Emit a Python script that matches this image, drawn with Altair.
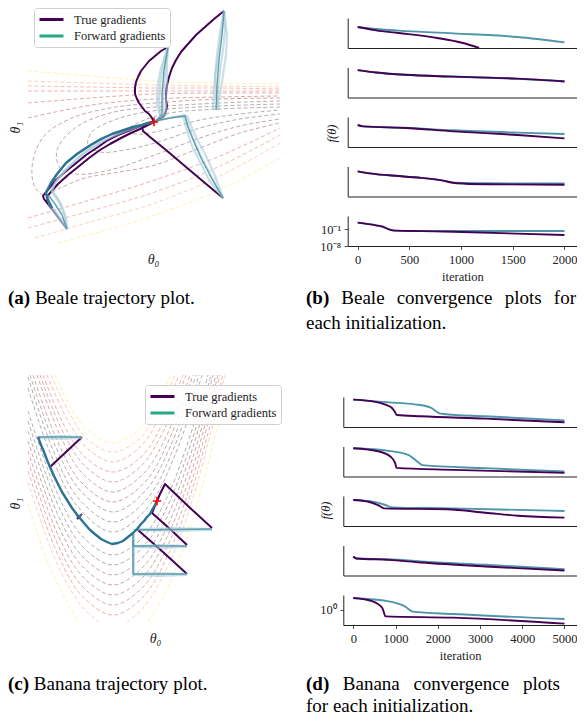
import altair as alt
import pandas as pd

W, H = 569, 709
MARGIN = 8
SERIF = "Liberation Serif"

# ======================= DATA =======================
# (a) Beale trajectory plot -- digitized readings (x to the right, y downward)
BEALE_CONTOUR_LINES = [
    [(28, 71), (90, 76), (155, 81), (220, 83), (280, 84)],
    [(28, 81), (90, 83), (155, 85), (220, 86), (280, 87)],
    [(28, 86), (90, 87), (155, 88), (220, 88), (280, 89)],
    [(28, 91), (90, 91), (155, 91), (220, 91), (280, 91)],
    [(28, 103), (90, 98), (155, 94), (220, 93), (280, 93)],
    [(28, 118), (92, 105), (155, 99), (220, 97), (280, 96)],
    [(280, 98), (220, 99), (155, 103), (110, 108), (72, 118), (45, 135), (33, 160), (34, 185),
     (44, 195), (60, 188), (85, 178), (120, 172), (155, 165), (200, 148), (240, 133), (280, 123)],
    [(280, 101), (220, 103), (155, 107), (110, 113), (75, 128), (57, 150), (60, 168), (75, 174),
     (110, 170), (155, 155), (200, 138), (240, 126), (280, 119)],
    [(280, 104), (220, 106), (160, 110), (120, 118), (92, 132), (88, 145), (100, 152), (125, 150),
     (155, 143), (200, 128), (240, 119), (280, 114)],
    [(280, 107), (220, 109), (170, 113), (140, 122), (128, 130), (135, 134), (155, 132), (200, 120),
     (240, 114), (280, 110)],
    [(28, 218), (90, 200), (155, 180), (220, 156), (280, 128)],
    [(28, 228), (90, 211), (155, 192), (220, 166), (280, 135)],
    [(35, 238), (90, 222), (155, 203), (220, 176), (280, 143)],
    [(58, 243), (110, 229), (155, 215), (220, 190), (280, 158)],
]
BEALE_CONTOUR_RANK = [9, 8, 7, 6, 5, 4, 3, 2, 1, 0, 6, 7, 8, 9]

BEALE_TRUE_PATHS = [
    [(224, 11), (214, 19), (205, 27), (196, 35), (188, 44), (181, 52), (176, 60), (172, 68), (169, 77),
     (167, 85), (166, 93), (166, 100), (167, 106), (166, 111), (164, 116), (160, 119), (154, 122)],
    [(168, 47), (161, 51), (155, 56), (149, 61), (145, 66), (141, 71), (138, 77), (136, 82), (135, 88),
     (135, 94), (137, 99), (139, 103), (142, 107), (145, 111), (149, 114), (152, 118), (154, 122)],
    [(223, 198), (205, 183), (186, 167), (166, 150), (150, 137), (143, 131), (142, 127), (146, 124), (154, 122)],
    [(67, 229), (55, 213), (44, 199), (43, 196), (46, 192), (56, 180), (65, 172), (75, 164), (86, 155),
     (98, 147), (108, 140), (118, 135), (128, 131), (138, 127), (146, 124), (154, 122)],
    [(52, 208), (47, 201), (47, 197), (50, 193), (58, 184), (68, 175), (78, 167), (89, 158), (100, 150),
     (110, 144), (121, 138), (131, 133), (140, 129), (148, 125), (154, 122)],
]
BEALE_FWD_STRANDS = [
    [(224, 11), (222, 30), (219, 50), (216, 70), (214, 90), (213, 110)],
    [(224, 11), (225, 30), (223, 50), (220, 70), (218, 90), (217, 110)],
    [(224, 11), (220, 32), (217, 55), (215, 75), (216, 95), (219, 110)],
    [(224, 11), (227, 35), (226, 55), (223, 75), (220, 95), (216, 108)],
    [(168, 47), (163, 65), (160, 85), (159, 100), (160, 116), (154, 122)],
    [(168, 47), (166, 65), (164, 85), (163, 100), (164, 116), (156, 121)],
    [(168, 47), (161, 68), (157, 88), (157, 105), (161, 118)],
    [(168, 47), (167, 62), (167, 80), (166, 100), (166, 116)],
    [(223, 198), (212, 178), (203, 160), (195, 143), (189, 128), (185, 115), (170, 118), (156, 121)],
    [(223, 198), (215, 176), (207, 158), (198, 141), (191, 126), (187, 116), (172, 117)],
    [(223, 198), (209, 180), (200, 162), (192, 146), (187, 131), (183, 116)],
    [(67, 229), (60, 218), (52, 207), (46, 197), (46, 191), (51, 182), (57, 174), (66, 163), (77, 154),
     (89, 146), (101, 139), (112, 134), (124, 130), (133, 127), (142, 125), (154, 122)],
    [(67, 229), (64, 214), (59, 202), (52, 192), (55, 183), (60, 177), (66, 170), (75, 161), (84, 153), (95, 146), (106, 139)],
    [(67, 229), (62, 222), (55, 214), (49, 204), (48, 195)],
    [(67, 229), (66, 218), (62, 206), (57, 197), (51, 190), (55, 183), (60, 176), (70, 165), (80, 156),
     (91, 148), (103, 141), (114, 136), (126, 131), (143, 125)],
]
BEALE_FWD_CORES = [
    [(224, 11), (222, 35), (219, 60), (217, 85), (216, 110)],
    [(168, 47), (164, 70), (162, 95), (162, 115), (156, 121)],
    [(223, 198), (211, 177), (201, 158), (194, 142), (188, 127), (185, 116), (170, 118), (155, 121)],
    [(67, 229), (62, 215), (55, 204), (49, 196)],
]
BEALE_FWD_MAIN = [
    [(52, 208), (48, 200), (46, 193), (51, 183), (57, 174), (66, 163), (77, 154), (89, 146), (101, 139),
     (112, 134), (124, 130), (133, 127), (142, 125), (148, 123), (154, 122)],
]
BEALE_OPTIMUM = [(154, 122)]

# (c) Banana trajectory plot -- digitized readings
BANANA_CONTOUR_LINES = [
    [(55, 375), (72, 410), (90, 432), (113, 443), (136, 432), (154, 410), (171, 375)],
    [(51, 375), (70, 414), (88, 440), (113, 452), (138, 440), (156, 414), (175, 375)],
    [(47, 375), (67, 419), (87, 448), (113, 462), (139, 448), (159, 419), (179, 375)],
    [(43, 375), (64, 425), (85, 457), (113, 472), (141, 457), (162, 425), (183, 375)],
    [(40, 375), (62, 430), (84, 465), (113, 482), (142, 465), (164, 430), (186, 375)],
    [(37, 375), (60, 435), (82, 473), (113, 492), (144, 473), (167, 435), (190, 375)],
    [(33, 375), (57, 440), (81, 482), (113, 502), (145, 482), (169, 440), (193, 375)],
    [(30, 375), (55, 445), (80, 490), (113, 512), (146, 490), (171, 445), (196, 375)],
    [(28, 377), (53, 450), (79, 499), (113, 522), (147, 499), (173, 450), (199, 375)],
    [(28, 388), (51, 455), (78, 507), (113, 532), (148, 507), (175, 455), (202, 375)],
    [(28, 411), (58, 495), (83, 537), (113, 555), (143, 537), (168, 495), (193, 427), (208, 375)],
    [(28, 421), (58, 505), (83, 547), (113, 565), (143, 547), (168, 505), (193, 437), (211, 375)],
    [(28, 431), (58, 515), (83, 557), (113, 575), (143, 557), (168, 515), (193, 447), (213, 375)],
    [(28, 441), (58, 525), (83, 567), (113, 585), (143, 567), (168, 525), (193, 457), (216, 375)],
    [(28, 451), (58, 535), (83, 577), (113, 595), (143, 577), (168, 535), (193, 467), (218, 375)],
    [(28, 461), (58, 545), (83, 587), (113, 605), (143, 587), (168, 545), (193, 477), (220, 375)],
    [(28, 471), (58, 555), (83, 597), (113, 615), (143, 597), (168, 555), (193, 487), (223, 375)],
    [(28, 482), (58, 566), (83, 608), (99, 622)],
    [(127, 622), (143, 608), (168, 566), (193, 498), (225, 375)],
    [(28, 503), (48, 563), (78, 622)],
    [(148, 622), (168, 587), (193, 519), (225, 396)],
]
BANANA_CONTOUR_RANK = [9, 8, 7, 6, 5, 4, 3, 2, 1, 0, 0, 1, 2, 3, 4, 5, 6, 8, 8, 9, 9]

BANANA_TRUE_PATHS = [
    [(82, 437), (66, 452), (50, 467)],
    [(82, 514), (77, 519)],
    [(212, 528), (188, 506), (165, 484), (160, 494), (157, 501)],
    [(187, 545), (170, 529), (152, 513), (157, 501)],
    [(187, 574), (163, 552), (138, 530)],
]
BANANA_FWD_STRANDS = [
    [(82, 437), (60, 436), (38, 437)],
    [(82, 438), (60, 439), (39, 438)],
    [(212, 529), (175, 528), (140, 529), (134, 531)],
    [(212, 530), (175, 531), (140, 530)],
    [(187, 546), (160, 545), (133, 546)],
    [(187, 547), (160, 548), (134, 547)],
    [(187, 574), (160, 573), (133, 574), (133, 552), (133, 534)],
    [(187, 575), (160, 576), (134, 575), (134, 552), (134, 534)],
]
BANANA_FWD_CORES = [
    [(82, 437), (38, 437)],
    [(212, 529), (134, 530)],
    [(187, 546), (133, 546), (133, 540)],
    [(187, 574), (133, 574), (133, 533)],
    [(82, 515), (76, 516)],
]
BANANA_FWD_MAIN = [
    [(38, 437), (41, 445), (44, 452), (47, 460), (50, 467), (54, 476), (58, 484), (62, 492), (67, 500),
     (72, 508), (78, 516), (84, 523), (90, 530), (96, 535), (101, 539), (107, 542), (112, 544), (118, 543),
     (123, 541), (128, 537), (133, 533), (137, 529), (141, 524), (144, 521), (147, 517), (150, 514),
     (152, 510), (155, 505), (157, 501)],
]
BANANA_OPTIMUM = [(157, 501)]

# (b) Beale convergence: iteration and log10 f(theta), one list per initialization
BEALE_FWD_ITER = [
    [0, 178, 396, 925, 1548, 2000],
    [0, 178, 458, 925, 1548, 2000],
    [0, 53, 458, 925, 1548, 2000],
    [0, 115, 302, 614, 801, 956, 1237, 2000],
    [0, 178, 240, 302, 364, 614, 925, 2000],
]
BEALE_FWD_LOGF = [
    [-0.5, -0.83, -1.11, -1.56, -2.17, -3.06],
    [0.56, 0.17, -0.22, -0.5, -0.89, -1.28],
    [-0.33, -0.56, -0.78, -1.22, -1.61, -1.83],
    [0.19, -0.14, -0.47, -0.9, -1.28, -1.72, -1.8, -1.83],
    [1.8, 0.68, 0.12, -1.0, -1.56, -1.7, -1.7, -1.7],
]
BEALE_TRUE_ITER = [
    [0, 178, 396, 769, 1018, 1174],
    [0, 178, 458, 925, 1548, 2000],
    [0, 53, 458, 925, 1548, 2000],
    [0, 115, 302, 614, 801, 956, 1237, 2000],
    [0, 178, 240, 302, 364, 614, 925, 2000],
]
BEALE_TRUE_LOGF = [
    [-0.5, -1.06, -1.5, -2.33, -3.17, -4.0],
    [0.56, 0.17, -0.22, -0.52, -0.86, -1.33],
    [-0.33, -0.56, -0.83, -1.39, -2.0, -2.56],
    [0.19, -0.14, -0.47, -0.9, -1.28, -1.78, -1.95, -2.04],
    [1.8, 0.68, 0.12, -1.0, -1.56, -1.75, -2.0, -3.38],
]

# (d) Banana convergence
BANANA_FWD_ITER = [
    [0, 840, 1450, 1832, 2023, 2137, 3130, 5000],
    [0, 840, 1298, 1565, 1641, 3130, 5000],
    [0, 458, 763, 916, 2366, 5000],
    [0, 76, 840, 1603, 3130, 5000],
    [0, 840, 1221, 1412, 2366, 5000],
]
BANANA_FWD_LOGF = [
    [0.56, 0.11, -0.22, -0.78, -1.67, -1.83, -2.22, -2.89],
    [0.72, 0.28, -0.39, -1.78, -2.11, -2.61, -3.17],
    [0.33, 0.06, -0.5, -0.89, -1.06, -1.5],
    [-0.83, -1.17, -1.28, -1.67, -2.22, -2.94],
    [1.75, 1.25, 0.5, -0.3, -0.65, -1.4],
]
BANANA_TRUE_ITER = [
    [0, 458, 763, 916, 977, 1031, 1603, 3130, 5000],
    [0, 611, 878, 992, 1023, 2366, 5000],
    [0, 382, 611, 725, 2214, 3130, 3893, 5000],
    [0, 76, 840, 1603, 3130, 5000],
    [0, 458, 687, 763, 2366, 5000],
]
BANANA_TRUE_LOGF = [
    [0.56, 0.28, -0.28, -0.83, -1.39, -2.0, -2.22, -2.61, -3.22],
    [0.72, 0.17, -0.67, -1.78, -2.56, -2.89, -3.39],
    [0.33, 0.0, -0.61, -1.06, -1.22, -1.78, -2.28, -2.61],
    [-0.83, -1.17, -1.39, -1.83, -2.5, -3.17],
    [1.75, 1.25, 0.25, -1.0, -1.2, -2.1],
]

SERIES_NAMES = ["True gradients", "Forward gradients"]

# captions: (text, bold) pieces, one list per line
CAPTION_A = [("(a)", True), ("Beale", False), ("trajectory", False), ("plot.", False)]
CAPTION_B1 = [("(b)", True), ("Beale", False), ("convergence", False), ("plots", False), ("for", False)]
CAPTION_B2 = [("each initialization.", False)]
CAPTION_C = [("(c)", True), ("Banana", False), ("trajectory", False), ("plot.", False)]
CAPTION_D1 = [("(d)", True), ("Banana", False), ("convergence", False), ("plots", False)]
CAPTION_D2 = [("for each initialization.", False)]


# calibration of the digitized readings into parameter units
def beale_theta(px, py):
    return 3 + (px - 154) / 40.0, 0.5 + (122 - py) / 40.0


def banana_theta(px, py):
    return (px - 112) / 45.0, (544 - py) / 43.0


# ======================= STYLE / LAYOUT =======================
PURPLE = "#440154"
LEGEND_TEAL = "#22a884"
TEAL_DARK = "#2c7391"
TEAL_MID = "#4f95aa"
TEAL_LIGHT = "#a6cad6"
AX = "#222222"
CONTOUR_PALETTE = ["#b0b0b0", "#b6aeae", "#bfaaaa", "#caa7a7", "#d5a8a8",
                   "#e3aaaa", "#f0afaf", "#f7bcb5", "#fcd3ba", "#fff2ad"]

PLOT_H = 30
B_X_DOMAIN, B_X_RANGE = [-96.7, 2121], [339.7, 569]
B_TOPS = [10, 59.5, 109, 158.5, 208]
B_Y_DOMAINS = [[-4, 1], [-4, 1], [-4, 1], [-4, 1], [-8, 4.6]]
D_X_DOMAIN, D_X_RANGE = [-236.7, 5296], [335.3, 569]
D_TOPS = [389, 438.5, 488, 537.5, 587]
D_Y_DOMAINS = [[-4, 1], [-4, 1], [-4, 1], [-4, 1], [-2.3, 2.2]]

CAP_SIZE = 19
# Times-metric advance widths (per 1000 em) used to lay out the caption words
_ADV = {"(": 333, ")": 333, " ": 250, ".": 250}
_ADV_REG = dict(a=444, b=500, c=444, d=500, e=444, f=333, g=500, h=500, i=278, j=278, l=278, n=500,
                o=500, p=500, r=333, s=389, t=278, v=500, y=500, z=444, B=667)
_ADV_BOLD = dict(a=500, b=556, c=444, d=556)


def text_width(txt, bold, size=CAP_SIZE):
    tab = _ADV_BOLD if bold else _ADV_REG
    return sum(_ADV.get(ch, tab.get(ch, 500)) for ch in txt) * size / 1000.0


def paths_df(paths, conv, ranks=None, kind=None):
    rows = []
    for i, pts in enumerate(paths):
        for k, (px, py) in enumerate(pts):
            t0, t1 = conv(px, py)
            row = {"id": i, "k": k, "t0": t0, "t1": t1}
            if ranks is not None:
                row["col"] = CONTOUR_PALETTE[ranks[i]]
            if kind is not None:
                row["kind"] = kind
            rows.append(row)
    return pd.DataFrame(rows)


def trajectory_layers(conv, box, contours, ranks, true_paths, strands, cores, main, optimum,
                      legend_xy, t0_xy, t1_xy):
    vx0, vy0, vx1, vy1 = box
    xa, _ = conv(vx0 + MARGIN, 0)
    xb, _ = conv(vx1 + MARGIN, 0)
    _, ya = conv(0, vy1 + MARGIN)
    _, yb = conv(0, vy0 + MARGIN)
    xs = alt.Scale(domain=[xa, xb], range=[vx0, vx1], nice=False, zero=False)
    ys = alt.Scale(domain=[ya, yb], range=[vy1, vy0], nice=False, zero=False)

    def xy(xaxis=None, yaxis=None):
        return dict(x=alt.X("t0:Q", scale=xs, axis=xaxis), y=alt.Y("t1:Q", scale=ys, axis=yaxis))

    title_style = dict(titleFont=SERIF, titleFontSize=14, titleFontStyle="italic",
                       titleFontWeight="normal", titleColor=AX, titleBaseline="middle",
                       titleAlign="center")
    xaxis = alt.Axis(orient="bottom", domain=False, ticks=False, labels=False, grid=False,
                     title="θ₀", titleX=t0_xy[0], titleY=t0_xy[1] - H, **title_style)
    yaxis = alt.Axis(orient="left", domain=False, ticks=False, labels=False, grid=False,
                     title="θ₁", titleX=t1_xy[0], titleY=t1_xy[1], titleAngle=270, **title_style)

    layers = []
    layers.append(
        alt.Chart(paths_df(contours, conv, ranks=ranks))
        .mark_line(strokeDash=[4, 2.5], strokeWidth=1, interpolate="catmull-rom")
        .encode(**xy(xaxis, yaxis), detail="id:N", order="k:Q",
                color=alt.Color("col:N", scale=None))
    )
    layers.append(
        alt.Chart(paths_df(true_paths, conv, kind=SERIES_NAMES[0]))
        .mark_line(strokeWidth=2, strokeJoin="round")
        .encode(**xy(), detail="id:N", order="k:Q",
                color=alt.Color("kind:N",
                                scale=alt.Scale(domain=SERIES_NAMES, range=[PURPLE, LEGEND_TEAL]),
                                legend=alt.Legend(title="", orient="none", legendX=legend_xy[0],
                                                  legendY=legend_xy[1], direction="vertical",
                                                  symbolType="M-2,0H2", symbolStrokeWidth=3,
                                                  symbolSize=144, symbolOpacity=1,
                                                  symbolOffset=6, symbolFillColor="transparent",
                                                  labelFont=SERIF, labelFontSize=12.5,
                                                  labelColor=AX, labelOffset=15, labelLimit=250,
                                                  padding=4, rowPadding=2.5,
                                                  strokeColor="#d0d0d0",
                                                  fillColor="rgba(255,255,255,0.85)",
                                                  cornerRadius=3)))
    )
    layers.append(
        alt.Chart(paths_df(strands, conv))
        .mark_line(strokeWidth=2.2, opacity=0.6, color=TEAL_LIGHT, strokeJoin="round")
        .encode(**xy(), detail="id:N", order="k:Q")
    )
    layers.append(
        alt.Chart(paths_df(cores, conv))
        .mark_line(strokeWidth=1.4, opacity=0.9, color=TEAL_MID, strokeJoin="round")
        .encode(**xy(), detail="id:N", order="k:Q")
    )
    layers.append(
        alt.Chart(paths_df(main, conv))
        .mark_line(strokeWidth=2.4, color=TEAL_DARK, strokeJoin="round")
        .encode(**xy(), detail="id:N", order="k:Q")
    )
    layers.append(
        alt.Chart(paths_df([optimum], conv))
        .mark_point(shape="M-1,0H1M0,-1V1", size=70, strokeWidth=1.6, color="red",
                    filled=False, opacity=1)
        .encode(**xy())
    )
    return layers


def convergence_layer(it_t, lf_t, it_f, lf_f, xdom, xrng, ydom, top, last, xvals,
                      yvals, ylabels, ytitle_xy=None):
    rows = []
    for it, lf in zip(it_f, lf_f):
        rows.append({"s": "fwd", "it": it, "lf": lf, "col": TEAL_MID})
    for it, lf in zip(it_t, lf_t):
        rows.append({"s": "true", "it": it, "lf": lf, "col": PURPLE})
    df = pd.DataFrame(rows)
    bottom = top + PLOT_H

    xkw = dict(orient="bottom", offset=bottom - H, grid=False, domainColor=AX, domainWidth=1,
               ticks=last, labels=last, title="")
    ykw = dict(orient="left", offset=-xrng[0], grid=False, domainColor=AX, domainWidth=1,
               ticks=last, labels=last, title="")
    if last:
        xkw.update(values=xvals, format="d", tickSize=3.5, tickColor=AX, tickWidth=0.8,
                   labelFont=SERIF, labelFontSize=12.5, labelColor=AX, labelPadding=4,
                   title="iteration", titleY=30, titleFont=SERIF, titleFontSize=12.5,
                   titleFontWeight="normal", titleColor=AX, titleBaseline="middle")
        expr = " : ".join(f"datum.value == {v} ? '{lab}'" for v, lab in zip(yvals, ylabels)) + " : ''"
        ykw.update(values=yvals, labelExpr=expr, tickSize=3.5, tickColor=AX, tickWidth=0.8,
                   labelFont=SERIF, labelFontSize=12.5, labelColor=AX, labelPadding=3.5)
    if ytitle_xy is not None:
        ykw.update(title="f(θ)", titleX=ytitle_xy[0], titleY=ytitle_xy[1], titleAngle=270,
                   titleFont=SERIF, titleFontSize=12.5, titleFontStyle="italic",
                   titleFontWeight="normal", titleColor=AX, titleBaseline="middle",
                   titleAlign="center")
    return (
        alt.Chart(df)
        .mark_line(strokeWidth=1.9, interpolate="monotone")
        .encode(
            x=alt.X("it:Q", scale=alt.Scale(domain=xdom, range=xrng, nice=False, zero=False),
                    axis=alt.Axis(**xkw)),
            y=alt.Y("lf:Q", scale=alt.Scale(domain=ydom, range=[bottom, top], nice=False, zero=False),
                    axis=alt.Axis(**ykw)),
            detail="s:N",
            color=alt.Color("col:N", scale=None),
        )
    )


def text_layer(txt, x, y, bold=False, size=CAP_SIZE):
    return (
        alt.Chart(pd.DataFrame({"t": [txt]}))
        .mark_text(align="left", baseline="alphabetic", font=SERIF, fontSize=size,
                   fontWeight="bold" if bold else "normal", color="black")
        .encode(x=alt.value(x), y=alt.value(y), text="t:N")
    )


def caption_line(pieces, x0, y, right=None):
    """Lay out the words of one caption line; stretched to `right` when given (justified)."""
    widths = [text_width(t, b) for t, b in pieces]
    gap = text_width(" ", False)
    if right is not None and len(pieces) > 1:
        gap = (right - x0 - sum(widths)) / (len(pieces) - 1)
    out, x = [], x0
    for (t, b), w in zip(pieces, widths):
        out.append(text_layer(t, x, y, bold=b))
        x += w + gap
    return out


layers = []
layers += trajectory_layers(beale_theta, (0, 0, 282, 262), BEALE_CONTOUR_LINES, BEALE_CONTOUR_RANK,
                            BEALE_TRUE_PATHS, BEALE_FWD_STRANDS, BEALE_FWD_CORES, BEALE_FWD_MAIN,
                            BEALE_OPTIMUM, legend_xy=(26, 0), t0_xy=(145, 251), t1_xy=(7.5, 119))
layers += trajectory_layers(banana_theta, (0, 362, 282, 642), BANANA_CONTOUR_LINES, BANANA_CONTOUR_RANK,
                            BANANA_TRUE_PATHS, BANANA_FWD_STRANDS, BANANA_FWD_CORES, BANANA_FWD_MAIN,
                            BANANA_OPTIMUM, legend_xy=(137, 377), t0_xy=(147, 630), t1_xy=(7.5, 495))

for i in range(5):
    last = i == 4
    layers.append(convergence_layer(
        BEALE_TRUE_ITER[i], BEALE_TRUE_LOGF[i], BEALE_FWD_ITER[i], BEALE_FWD_LOGF[i],
        B_X_DOMAIN, B_X_RANGE, B_Y_DOMAINS[i], B_TOPS[i], last,
        [0, 500, 1000, 1500, 2000], [-1, -8], ["10⁻¹", "10⁻⁸"],
        ytitle_xy=(-16, 125) if i == 2 else None))
    layers.append(convergence_layer(
        BANANA_TRUE_ITER[i], BANANA_TRUE_LOGF[i], BANANA_FWD_ITER[i], BANANA_FWD_LOGF[i],
        D_X_DOMAIN, D_X_RANGE, D_Y_DOMAINS[i], D_TOPS[i], last,
        [0, 1000, 2000, 3000, 4000, 5000], [0], ["10⁰"],
        ytitle_xy=(-18, 502) if i == 2 else None))

# captions
layers += caption_line(CAPTION_A, 0, 296)
layers += caption_line(CAPTION_B1, 298, 296, right=568)
layers += caption_line(CAPTION_B2, 298, 321)
layers += caption_line(CAPTION_C, 0, 682)
layers += caption_line(CAPTION_D1, 298, 682, right=552)
layers += caption_line(CAPTION_D2, 298, 704)

chart = (
    alt.layer(*layers)
    .resolve_scale(x="independent", y="independent", color="independent")
    .resolve_axis(x="independent", y="independent")
    .resolve_legend(color="independent")
    .properties(width=W, height=H, padding=0, autosize=alt.AutoSizeParams(type="none"))
    .configure_view(stroke=None)
    .configure_axis(grid=False)
)

chart.save("out.html", embed_options={"renderer": "svg", "actions": False})
